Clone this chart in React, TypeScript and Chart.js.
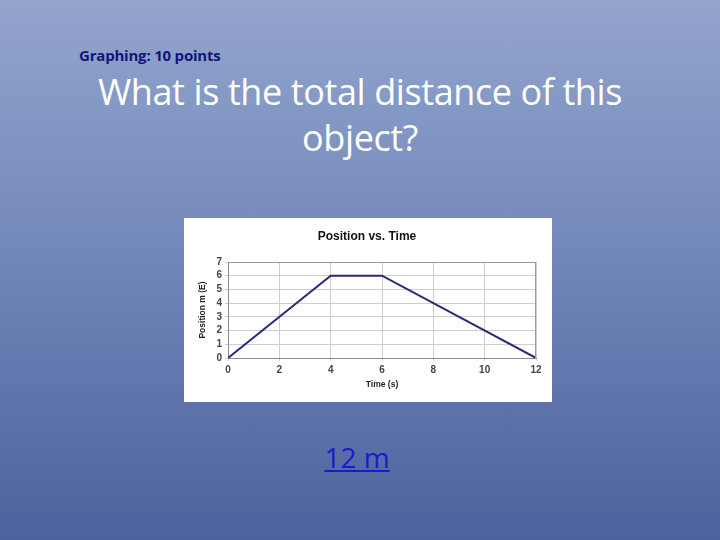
import React, { useEffect, useRef } from "react";
import { Chart, registerables } from "chart.js";

Chart.register(...registerables);

const times = [0, 4, 6, 12];
const positions = [0, 6, 6, 0];
const xTicks = [0, 2, 4, 6, 8, 10, 12];
const yTicks = [0, 1, 2, 3, 4, 5, 6, 7];

const chartTitle = "Position vs. Time";
const xTitle = "Time (s)";
const yTitle = "Position m (E)";

function PositionChart() {
  const ref = useRef<HTMLCanvasElement>(null);
  useEffect(() => {
    if (!ref.current) return;
    const tickFont = { family: "Liberation Sans", size: 10, weight: "bold" as const };
    const chart = new Chart(ref.current, {
      type: "line",
      data: {
        datasets: [
          {
            data: times.map((t, i) => ({ x: t, y: positions[i] })),
            borderColor: "#262a78",
            borderWidth: 2,
            pointRadius: 0,
            tension: 0,
            fill: false,
          },
        ],
      },
      options: {
        animation: false,
        responsive: false,
        devicePixelRatio: 1,
        layout: { padding: { left: 14, right: 16, top: 0, bottom: 12 } },
        plugins: {
          legend: { display: false },
          tooltip: { enabled: false },
          title: {
            display: true,
            text: chartTitle,
            color: "#111",
            font: { family: "Liberation Sans", size: 12, weight: "bold" },
            padding: { top: 11, bottom: 18.6 },
          },
        },
        scales: {
          x: {
            type: "linear",
            min: 0,
            max: 12,
            afterBuildTicks: (s: any) => {
              s.ticks = xTicks.map((v) => ({ value: v }));
            },
            afterFit: (s: any) => {
              s.height = 32;
            },
            grid: { color: "#cfcfcf", lineWidth: 1, drawTicks: true, tickLength: 3 },
            border: { color: "#8a8a8a", width: 1 },
            ticks: { color: "#444", font: tickFont, padding: 3, maxRotation: 0, autoSkip: false },
            title: {
              display: true,
              text: xTitle,
              color: "#222",
              font: { family: "Liberation Sans", size: 8.5, weight: "bold" },
              padding: { top: 2, bottom: 0 },
            },
          },
          y: {
            type: "linear",
            min: 0,
            max: 7,
            afterBuildTicks: (s: any) => {
              s.ticks = yTicks.map((v) => ({ value: v }));
            },
            afterFit: (s: any) => {
              s.width = 30;
            },
            grid: { color: "#cfcfcf", lineWidth: 1, drawTicks: true, tickLength: 3 },
            border: { color: "#8a8a8a", width: 1 },
            ticks: { color: "#444", font: tickFont, padding: 3, autoSkip: false },
            title: {
              display: true,
              text: yTitle,
              color: "#222",
              font: { family: "Liberation Sans", size: 8.5, weight: "bold" },
              padding: { top: 0, bottom: 2 },
            },
          },
        },
      },
      plugins: [
        {
          id: "frame",
          afterDraw: (c: any) => {
            const { left, right, top, bottom } = c.chartArea;
            const ctx = c.ctx;
            ctx.save();
            ctx.strokeStyle = "#9a9a9a";
            ctx.lineWidth = 1;
            ctx.beginPath();
            ctx.moveTo(left, top + 0.5);
            ctx.lineTo(right, top + 0.5);
            ctx.moveTo(right - 0.5, top);
            ctx.lineTo(right - 0.5, bottom);
            ctx.stroke();
            ctx.restore();
          },
        },
      ],
    } as any);
    return () => chart.destroy();
  }, []);
  return <canvas ref={ref} width={368} height={184} style={{ display: "block" }} />;
}

export default function App() {
  return (
    <div
      style={{
        position: "fixed",
        left: 0,
        top: 0,
        width: 720,
        height: 540,
        overflow: "hidden",
        background: "linear-gradient(180deg, #93a5cd 0%, #7389bb 45%, #4d619c 100%)",
        fontFamily: "Lato, 'Open Sans', sans-serif",
      }}
    >
      <div
        style={{
          position: "absolute",
          left: 79,
          top: 46,
          fontSize: 15,
          lineHeight: "18px",
          fontWeight: "bold",
          color: "#14147a",
          fontFamily: "'Open Sans', Lato, sans-serif",
          letterSpacing: -0.2,
        }}
      >
        Graphing: 10 points
      </div>
      <div
        style={{
          position: "absolute",
          left: 60,
          top: 72,
          width: 600,
          textAlign: "center",
          fontSize: 36,
          lineHeight: "40px",
          color: "#ffffff",
          fontFamily: "'Open Sans', Lato, sans-serif",
          letterSpacing: -0.4,
        }}
      >
        What is the total distance of this
      </div>
      <div
        style={{
          position: "absolute",
          left: 60,
          top: 118,
          width: 600,
          textAlign: "center",
          fontSize: 36,
          lineHeight: "40px",
          color: "#ffffff",
          fontFamily: "'Open Sans', Lato, sans-serif",
          letterSpacing: -0.4,
        }}
      >
        object?
      </div>
      <div
        style={{
          position: "absolute",
          left: 184,
          top: 218,
          width: 368,
          height: 184,
          background: "#ffffff",
        }}
      >
        <PositionChart />
      </div>
      <div
        style={{
          position: "absolute",
          left: 0,
          width: 714,
          top: 439,
          textAlign: "center",
          fontSize: 28,
          lineHeight: "36px",
          color: "#1a1acc",
          textDecoration: "underline",
          fontFamily: "'Open Sans', Lato, sans-serif",
        }}
      >
        12 m
      </div>
    </div>
  );
}
